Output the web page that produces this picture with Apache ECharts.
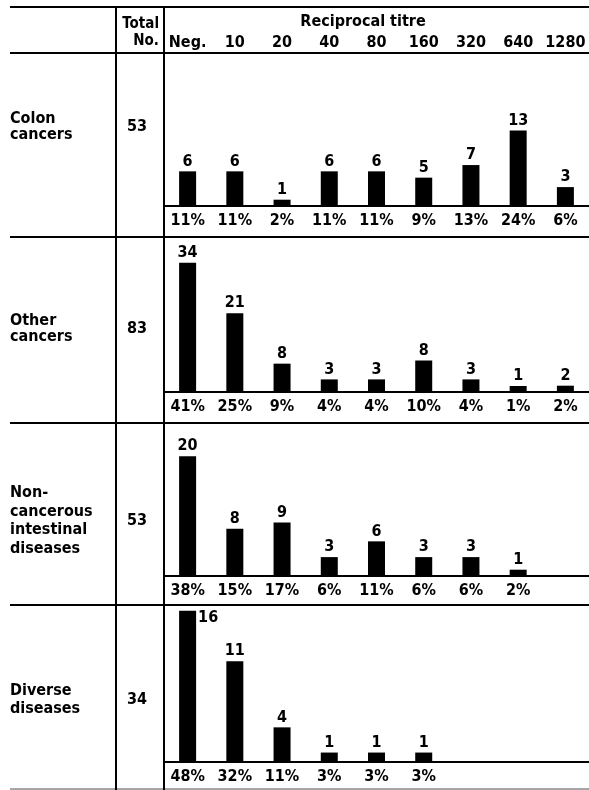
<!DOCTYPE html>
<html><head><meta charset="utf-8">
<script src="https://cdn.jsdelivr.net/npm/echarts@6/dist/echarts.min.js"></script>
<style>html,body{margin:0;padding:0;background:#fff}#c{width:589px;height:790px}</style>
</head><body><div id="c"></div>
<script>
// ---- data ----
var titres = ['Neg.', '10', '20', '40', '80', '160', '320', '640', '1280'];
var groups = ['Colon\ncancers', 'Other\ncancers', 'Non-\ncancerous\nintestinal\ndiseases', 'Diverse\ndiseases'];
var totals = [53, 83, 53, 34];
var countsColon = [6, 6, 1, 6, 6, 5, 7, 13, 3];
var pctColon = [11, 11, 2, 11, 11, 9, 13, 24, 6];
var countsOther = [34, 21, 8, 3, 3, 8, 3, 1, 2];
var pctOther = [41, 25, 9, 4, 4, 10, 4, 1, 2];
var countsNonCanc = [20, 8, 9, 3, 6, 3, 3, 1];
var pctNonCanc = [38, 15, 17, 6, 11, 6, 6, 2];
var countsDiverse = [16, 11, 4, 1, 1, 1];
var pctDiverse = [48, 32, 11, 3, 3, 3];
var headerTitle = 'Reciprocal titre';
var totalHeader = 'Total\nNo.';

var counts = [countsColon, countsOther, countsNonCanc, countsDiverse];
var pcts = [pctColon, pctOther, pctNonCanc, pctDiverse];

// ---- layout ----
var FONT = '"DejaVu Sans Condensed", "DejaVu Sans"';
var FS = 16;
var baselines = [206, 392, 576, 762];
var rowCenters = [127, 329, 521, 700];
var rowLH = [16, 16, 18.5, 18];
var seps = [7, 53, 237, 423, 605];
var pxPer = 3.15, yMax = 50, gH = yMax * pxPer;
var gLeft = 164, gW = 427;

var grids = [], xAxes = [], yAxes = [], series = [], graphics = [];
baselines.forEach(function (b, r) {
  grids.push({left: gLeft, width: gW, top: b - gH, height: gH});
  xAxes.push({
    type: 'category', gridIndex: r, data: titres,
    axisLine: {lineStyle: {color: '#000', width: 2}},
    axisTick: {show: false},
    axisLabel: {
      interval: 0, margin: 7, color: '#000', fontFamily: FONT, fontWeight: 'bold', fontSize: FS,
      formatter: (function (rr) { return function (v, i) { var p = pcts[rr][i]; return p === undefined ? '' : p + '%'; }; })(r)
    }
  });
  yAxes.push({type: 'value', gridIndex: r, min: 0, max: yMax, show: false});
  var data = pcts[r].map(function (p, i) {
    var d = {value: p, count: counts[r][i]};
    if (p * pxPer > gH - 20) {
      d.label = {position: ['100%', 0], align: 'left', verticalAlign: 'top', offset: [2, -1]};
    }
    return d;
  });
  series.push({
    type: 'bar', xAxisIndex: r, yAxisIndex: r, data: data, barWidth: 17, barMinHeight: 6,
    itemStyle: {color: '#000'},
    label: {show: true, position: 'top', distance: 2, color: '#000', fontFamily: FONT, fontWeight: 'bold', fontSize: FS,
      formatter: function (p) { return String(p.data.count); }},
    silent: true, animation: false
  });
  var nl = groups[r].split('\n').length;
  graphics.push({type: 'text', left: 10, top: rowCenters[r] - nl * rowLH[r] / 2,
    style: {text: groups[r], font: 'bold ' + FS + 'px ' + FONT, fill: '#000', lineHeight: rowLH[r]}});
  graphics.push({type: 'text', x: 137, y: rowCenters[r],
    style: {text: String(totals[r]), font: 'bold ' + FS + 'px ' + FONT, fill: '#000', align: 'center', verticalAlign: 'middle'}});
});

// header axis (titre labels)
grids.push({left: gLeft, width: gW, top: 10, height: 24});
xAxes.push({type: 'category', gridIndex: 4, data: titres, axisLine: {show: false}, axisTick: {show: false},
  axisLabel: {interval: 0, margin: 0, verticalAlign: 'top', lineHeight: 17, color: '#000', fontFamily: FONT, fontWeight: 'bold', fontSize: FS}});
yAxes.push({type: 'value', gridIndex: 4, show: false});

graphics.push({type: 'text', x: 363, y: 22, style: {text: headerTitle, font: 'bold ' + FS + 'px ' + FONT, fill: '#000', align: 'center', verticalAlign: 'middle'}});
graphics.push({type: 'text', x: 159, y: 33, style: {text: totalHeader, font: 'bold 15px ' + FONT, fill: '#000', align: 'right', verticalAlign: 'middle', lineHeight: 17}});

// table rules
seps.forEach(function (y) {
  graphics.push({type: 'line', shape: {x1: 10, y1: y, x2: 589, y2: y}, style: {stroke: '#000', lineWidth: 2}});
});
graphics.push({type: 'line', shape: {x1: 10, y1: 789, x2: 589, y2: 789}, style: {stroke: '#888', lineWidth: 1.5}});
[116, 164].forEach(function (x) {
  graphics.push({type: 'line', shape: {x1: x, y1: 6, x2: x, y2: 790}, style: {stroke: '#000', lineWidth: 2}});
});

var chart = echarts.init(document.getElementById('c'), null, {renderer: 'canvas'});
chart.setOption({
  animation: false,
  grid: grids, xAxis: xAxes, yAxis: yAxes, series: series, graphic: graphics
});
</script></body></html>
